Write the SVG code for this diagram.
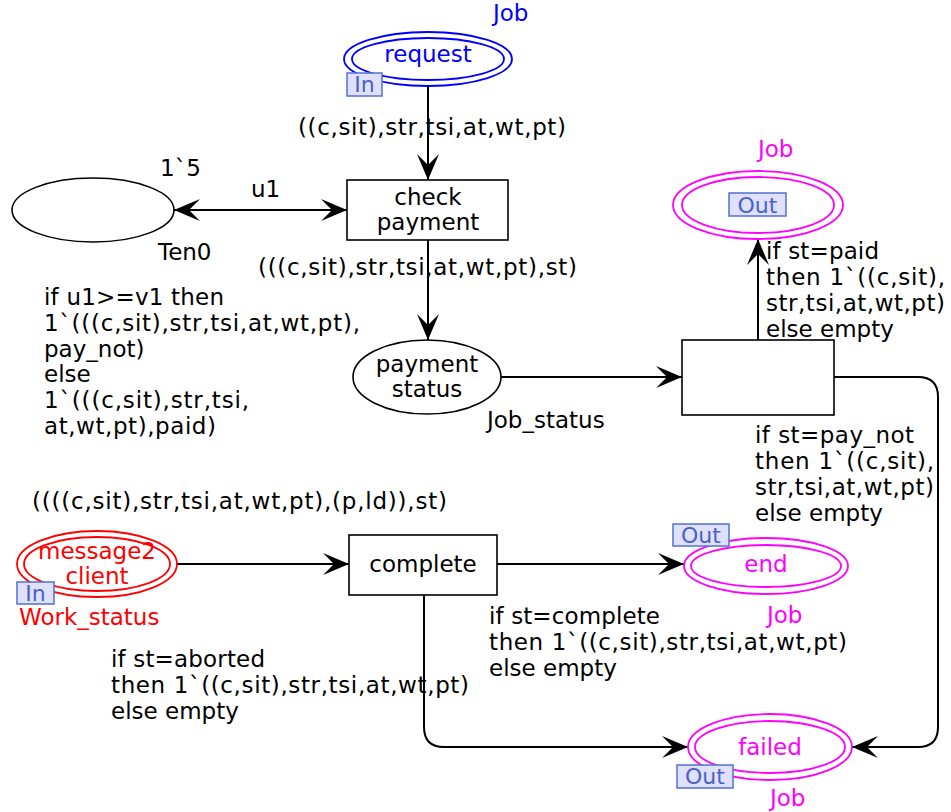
<svg xmlns="http://www.w3.org/2000/svg" width="951" height="812" viewBox="0 0 951 812">
<defs>
<style>
text{font-family:"DejaVu Sans",Verdana,sans-serif;font-size:23px;fill:#000}
.c{text-anchor:middle}
.blue{fill:#0000ff}
.mag{fill:#ff00ff}
.red{fill:#ff0000}
.pl{fill:#fff;stroke:#000;stroke-width:1.6}
.tr{fill:#fff;stroke:#000;stroke-width:1.6}
.pb{fill:#fff;stroke:#0000ff;stroke-width:1.8}
.pm{fill:#fff;stroke:#ff00ff;stroke-width:1.8}
.pr{fill:#fff;stroke:#ff0000;stroke-width:1.8}
.tag{fill:#dfe0fb;stroke:#5070d8;stroke-width:1.5}
.tagt{fill:#4a62c8;font-size:22px;text-anchor:middle}
.arc{fill:none;stroke:#000;stroke-width:2;marker-end:url(#ah)}
</style>
<marker id="ah" viewBox="-28 -12 30 24" refX="0" refY="0" markerWidth="30" markerHeight="24" markerUnits="userSpaceOnUse" orient="auto-start-reverse">
<path d="M0,0 L-26,-11 L-15,0 L-26,11 Z" fill="#000"/>
</marker>
</defs>
<rect width="951" height="812" fill="#fff"/>

<g id="connectors">
<path class="arc" d="M428,86 L428,180"/>
<path class="arc" d="M174,210 L347,210" marker-start="url(#ah)"/>
<path class="arc" d="M428,240 L428,340"/>
<path class="arc" d="M501,377 L682,377"/>
<path class="arc" d="M758,340 L758,239"/>
<path class="arc" d="M834,377 L918,377 Q938,377 938,397 L938,727 Q938,747 918,747 L852,747"/>
<path class="arc" d="M177,564 L349,564"/>
<path class="arc" d="M497,564 L684,564"/>
<path class="arc" d="M424,595 L424,727 Q424,747 444,747 L688,747"/>
</g>

<g id="arc-labels">
<text x="298" y="135" textLength="268" lengthAdjust="spacing">((c,sit),str,tsi,at,wt,pt)</text>
<text x="160" y="176">1`5</text>
<text x="251" y="197">u1</text>
<text x="258" y="275" textLength="319" lengthAdjust="spacing">(((c,sit),str,tsi,at,wt,pt),st)</text>
<text x="44" y="305" textLength="180" lengthAdjust="spacing">if u1&gt;=v1 then</text>
<text x="44" y="331" textLength="316" lengthAdjust="spacing">1`(((c,sit),str,tsi,at,wt,pt),</text>
<text x="44" y="357">pay_not)</text>
<text x="44" y="382">else</text>
<text x="44" y="408" textLength="205" lengthAdjust="spacing">1`(((c,sit),str,tsi,</text>
<text x="44" y="434" textLength="172" lengthAdjust="spacing">at,wt,pt),paid)</text>
<text x="766" y="259" textLength="113" lengthAdjust="spacing">if st=paid</text>
<text x="766" y="285" textLength="179" lengthAdjust="spacing">then 1`((c,sit),</text>
<text x="766" y="311" textLength="179" lengthAdjust="spacing">str,tsi,at,wt,pt)</text>
<text x="766" y="337">else empty</text>
<text x="755" y="443" textLength="159" lengthAdjust="spacing">if st=pay_not</text>
<text x="755" y="469" textLength="179" lengthAdjust="spacing">then 1`((c,sit),</text>
<text x="755" y="495" textLength="179" lengthAdjust="spacing">str,tsi,at,wt,pt)</text>
<text x="755" y="521">else empty</text>
<text x="32" y="509" textLength="415" lengthAdjust="spacing">((((c,sit),str,tsi,at,wt,pt),(p,ld)),st)</text>
<text x="489" y="624" textLength="171" lengthAdjust="spacing">if st=complete</text>
<text x="489" y="650" textLength="358" lengthAdjust="spacing">then 1`((c,sit),str,tsi,at,wt,pt)</text>
<text x="489" y="676">else empty</text>
<text x="111" y="667" textLength="154" lengthAdjust="spacing">if st=aborted</text>
<text x="111" y="693" textLength="358" lengthAdjust="spacing">then 1`((c,sit),str,tsi,at,wt,pt)</text>
<text x="111" y="719">else empty</text>
</g>

<g id="request">
<ellipse class="pb" cx="428" cy="59" rx="84" ry="27"/>
<ellipse class="pb" cx="428" cy="59" rx="76" ry="21"/>
<text class="c blue" x="428" y="62">request</text>
<text class="blue" x="493" y="21">Job</text>
<rect class="tag" x="347" y="73" width="35" height="23"/>
<text class="tagt" x="364.5" y="92">In</text>
</g>

<g id="Ten0">
<ellipse class="pl" cx="93" cy="210" rx="81" ry="32"/>
<text x="158" y="260">Ten0</text>
</g>

<g id="check_payment">
<rect class="tr" x="347" y="180" width="161" height="60"/>
<text class="c" x="428" y="205">check</text>
<text class="c" x="428" y="230">payment</text>
</g>

<g id="payment_status">
<ellipse class="pl" cx="427" cy="377" rx="74" ry="37"/>
<text class="c" x="427" y="372">payment</text>
<text class="c" x="427" y="397">status</text>
<text x="487" y="428">Job_status</text>
</g>

<g id="decide">
<rect class="tr" x="682" y="340" width="152" height="75"/>
</g>

<g id="out_paid">
<ellipse class="pm" cx="758" cy="205" rx="85" ry="34"/>
<ellipse class="pm" cx="758" cy="205" rx="76" ry="28"/>
<text class="mag" x="758" y="157">Job</text>
<rect class="tag" x="729" y="193" width="57" height="23"/>
<text class="tagt" x="757.5" y="213">Out</text>
</g>

<g id="message2client">
<ellipse class="pr" cx="97" cy="564" rx="80" ry="33"/>
<ellipse class="pr" cx="97" cy="564" rx="73" ry="27"/>
<text class="c red" x="97" y="559">message2</text>
<text class="c red" x="97" y="584">client</text>
<rect class="tag" x="17" y="582" width="37" height="22"/>
<text class="tagt" x="35.5" y="601">In</text>
<text class="red" x="19" y="625">Work_status</text>
</g>

<g id="complete">
<rect class="tr" x="349" y="535" width="148" height="60"/>
<text class="c" x="423" y="572">complete</text>
</g>

<g id="end">
<ellipse class="pm" cx="766" cy="566" rx="82" ry="28"/>
<ellipse class="pm" cx="766" cy="566" rx="75" ry="21"/>
<text class="c mag" x="766" y="572">end</text>
<rect class="tag" x="673" y="524" width="56" height="22"/>
<text class="tagt" x="701" y="543">Out</text>
<text class="mag" x="767" y="623">Job</text>
</g>

<g id="failed">
<ellipse class="pm" cx="770" cy="747" rx="82" ry="33"/>
<ellipse class="pm" cx="770" cy="747" rx="75" ry="26"/>
<text class="c mag" x="770" y="755">failed</text>
<rect class="tag" x="677" y="765" width="56" height="23"/>
<text class="tagt" x="705" y="784">Out</text>
<text class="mag" x="770" y="806">Job</text>
</g>
</svg>
